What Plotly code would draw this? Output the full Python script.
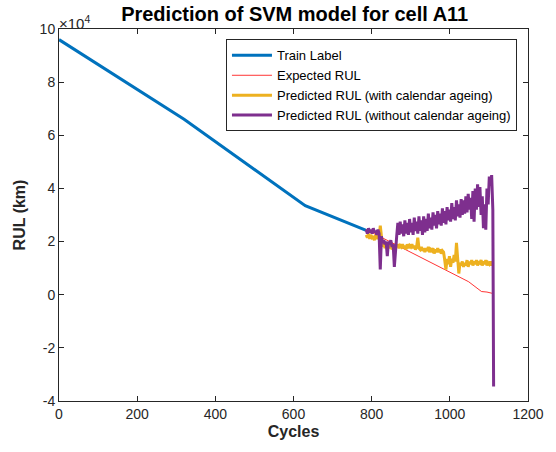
import plotly.graph_objects as go

# ---- data (RUL in units of 1e4 km) ----
train_cycles = [0, 320, 630, 786]
train_rul = [9.6, 6.6, 3.35, 2.42]

expected_cycles = [786, 820, 946, 1048, 1081, 1095, 1112]
expected_rul = [2.45, 2.2, 1.25, 0.49, 0.12, 0.1, 0.04]

pred_cycles = list(range(786, 1111, 3))  # 786 .. 1110

pred_with_cal = [
    2.25, 2.15, 2.3, 2.1, 2.25, 2.15, 2.2, 2.05, 2.25, 2.1, 2.2, 2.15,
    2.6,
    2.05, 1.8, 2.0, 1.75, 1.95, 1.7, 1.9, 1.75, 1.95, 1.7, 1.85, 1.75, 1.9,
    1.8, 1.9, 1.75, 1.85, 1.8, 1.9, 1.75, 1.85, 1.7, 1.9, 1.75, 1.85, 1.8, 1.9, 1.75, 1.85, 1.7, 1.8,
    2.15, 1.75,
    1.7, 1.8, 1.65, 1.75, 1.6, 1.75, 1.65, 1.8, 1.6, 1.7, 1.65, 1.75, 1.55, 1.7, 1.6, 1.75, 1.6, 1.7, 1.55, 1.65, 1.6,
    1.3, 0.95, 1.35, 1.15, 1.45, 1.05, 1.35, 1.2, 1.5, 1.25, 1.95, 1.35, 0.8, 1.2,
    1.1, 1.25, 1.05, 1.2, 1.1, 1.3, 1.05, 1.25, 1.15, 1.3, 1.1, 1.25, 1.15, 1.3,
    1.1, 1.25, 1.2, 1.3, 1.1, 1.25, 1.15, 1.3, 1.1, 1.2, 1.15, 1.25, 1.1, 1.2,
]

pred_without_cal = [
    2.45, 2.3, 2.5, 2.35, 2.45, 2.3, 2.5, 2.35, 2.4, 2.25, 2.45, 2.3,
    0.95,
    2.2, 1.95, 2.05, 1.9, 2.0, 1.45, 2.0, 1.9, 2.05, 1.8, 1.9, 1.05, 1.5,
    2.2, 2.7, 2.25, 2.75, 2.3, 2.65, 2.2, 2.8, 2.3, 2.7, 2.25, 2.85, 2.35, 2.7, 2.25, 2.9, 2.4, 2.75,
    2.3, 2.95, 2.4, 2.8, 2.25, 2.95, 2.35, 2.85, 2.4, 3.05, 2.5, 2.9, 2.45, 3.1, 2.6, 3.0, 2.5, 3.15,
    2.65, 3.05, 2.6, 3.25, 2.7, 3.15, 2.65, 3.3, 2.8, 3.2, 2.75, 3.45, 2.85, 3.3, 2.8, 3.55, 2.95, 3.4,
    2.9, 3.6, 3.0, 3.55, 3.05, 3.7, 3.1, 3.8, 3.2, 3.65, 2.85, 3.9, 2.75, 4.0, 3.2, 4.15, 3.3, 4.05,
    3.0, 3.7, 2.5, 3.4, 2.45, 4.0, 3.4, 4.45, 4.1, 4.5, 3.2,
    -3.45,
]
pred_without_cycles = pred_cycles + [1112]

assert len(pred_with_cal) == len(pred_cycles), (len(pred_with_cal), len(pred_cycles))
assert len(pred_without_cal) == len(pred_without_cycles), (len(pred_without_cal), len(pred_without_cycles))

x_ticks = [0, 200, 400, 600, 800, 1000, 1200]
y_ticks = [-4, -2, 0, 2, 4, 6, 8, 10]
y_ticktext = [str(v) for v in y_ticks]

FONT = "Liberation Sans, Arial, sans-serif"
AX = "#262626"

fig = go.Figure()
fig.add_trace(go.Scatter(x=train_cycles, y=train_rul, mode="lines", name="Train Label",
                         line=dict(color="#0072BD", width=3)))
fig.add_trace(go.Scatter(x=expected_cycles, y=expected_rul, mode="lines", name="Expected RUL",
                         line=dict(color="#FF0000", width=0.8)))
fig.add_trace(go.Scatter(x=pred_cycles, y=pred_with_cal, mode="lines",
                         name="Predicted RUL (with calendar ageing)",
                         line=dict(color="#EDB120", width=3)))
fig.add_trace(go.Scatter(x=pred_without_cycles, y=pred_without_cal, mode="lines",
                         name="Predicted RUL (without calendar ageing)",
                         line=dict(color="#7E2F8E", width=3)))

fig.update_layout(
    width=556, height=452,
    margin=dict(l=59, r=25, t=29, b=51),
    paper_bgcolor="white", plot_bgcolor="white",
    font=dict(family=FONT, size=14, color=AX),
    title=dict(text="<b>Prediction of SVM model for cell A11</b>", x=0.53, xanchor="center",
               y=0.97, yanchor="middle", font=dict(size=20, color="black")),
    showlegend=True,
    legend=dict(x=0.356, y=0.972, xanchor="left", yanchor="top",
                bgcolor="white", bordercolor=AX, borderwidth=1, itemwidth=40,
                font=dict(size=13, color="black"), tracegroupgap=0),
    xaxis=dict(range=[0, 1200], tickvals=x_ticks, ticks="inside", ticklen=5,
               showline=True, linecolor=AX, linewidth=1, mirror="ticks",
               showgrid=False, zeroline=False, tickcolor=AX, tickfont=dict(size=14),
               title=dict(text="<b>Cycles</b>", font=dict(size=16, color=AX), standoff=5)),
    yaxis=dict(range=[-4, 10], tickvals=y_ticks, ticktext=y_ticktext, ticks="inside", ticklen=5,
               showline=True, linecolor=AX, linewidth=1, mirror="ticks",
               showgrid=False, zeroline=False, tickcolor=AX, tickfont=dict(size=14),
               title=dict(text="<b>RUL (km)</b>", font=dict(size=16, color=AX), standoff=10)),
)

fig.add_annotation(xref="paper", yref="paper", x=0.0, y=1.0, xanchor="left", yanchor="bottom",
                   text="×10<sup>4</sup>", showarrow=False, font=dict(size=15, color=AX),
                   xshift=-2, yshift=-5)

fig.write_html("out.html")
